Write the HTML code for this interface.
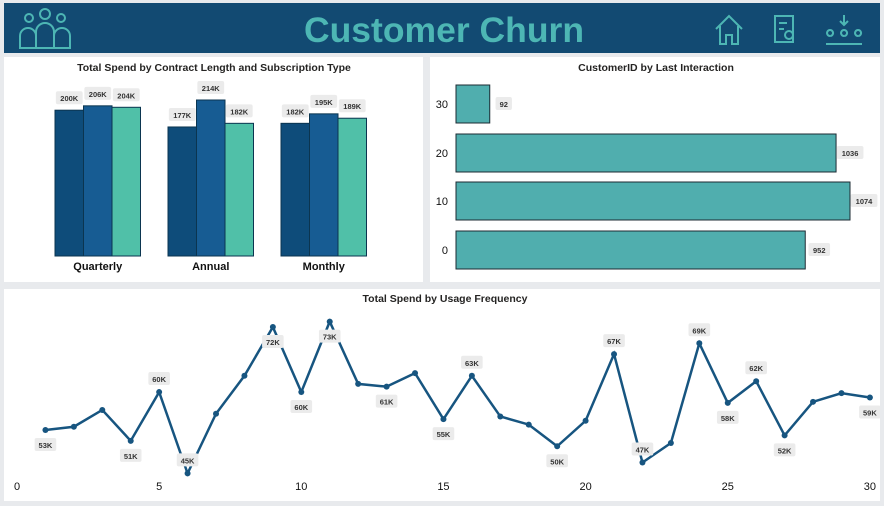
<!DOCTYPE html>
<html><head><meta charset="utf-8"><style>
body{margin:0;width:884px;height:501px;background:#e8eaed;font-family:"Liberation Sans",sans-serif;overflow:hidden;position:relative}
.panel{position:absolute;background:#fff}
svg text{font-family:"Liberation Sans",sans-serif}
</style></head><body>
<div style="position:absolute;left:4px;top:3px;width:876px;height:50px;background:#124a72">
 <svg width="876" height="50">
  <g stroke="#4db6b4" stroke-width="2" fill="none">
   <circle cx="25" cy="15" r="4"/><circle cx="41" cy="11" r="5"/><circle cx="57" cy="15" r="4"/>
   <path d="M16 45 v-12 a8 8 0 0 1 16 0 v12 z"/><path d="M32 45 v-16 a9 9 0 0 1 18 0 v16 z"/><path d="M50 45 v-12 a8 8 0 0 1 16 0 v12 z"/>
  </g>
  <text x="440" y="39" text-anchor="middle" font-size="35" font-weight="bold" fill="#4db6b4" textLength="280" lengthAdjust="spacingAndGlyphs">Customer Churn</text>
  <g stroke="#4db6b4" stroke-width="2" fill="none">
   <path d="M712 26 l13 -13 l13 13 M716 23 v18 h6 v-9 h6 v9 h6 v-18"/>
   <path d="M771 13 h18 v26 h-18 z M775 20 h8 M775 26 h5"/>
   <circle cx="785" cy="32" r="4" stroke="#4db6b4"/>
   <path d="M840 12 v10 M836 18 l4 4 l4 -4 M822 41 h36 M826 33 a3 3 0 1 1 0.1 0 M840 33 a3 3 0 1 1 0.1 0 M854 33 a3 3 0 1 1 0.1 0"/>
  </g>
 </svg>
</div>

<div class="panel" style="left:4px;top:57px;width:419px;height:225px">
<svg id="c1" width="419" height="225"></svg></div>
<div class="panel" style="left:430px;top:57px;width:450px;height:225px">
<svg id="c2" width="450" height="225"></svg></div>
<div class="panel" style="left:4px;top:289px;width:876px;height:212px">
<svg id="c3" width="876" height="212"></svg></div>

<script>
const contractCats=["Quarterly","Annual","Monthly"];
const subBasic=[200,177,182];
const subPremium=[206,214,195];
const subStandard=[204,182,189];
const interactCats=["30","20","10","0"];
const interactVals=[92,1036,1074,952];
const usageX=[1,2,3,4,5,6,7,8,9,10,11,12,13,14,15,16,17,18,19,20,21,22,23,24,25,26,27,28,29,30];
const usageVals=[53,53.6,56.7,51,60,45,56,63,72,60,73,61.5,61,63.5,55,63,55.5,54,50,54.7,67,47,50.6,69,58,62,52,58.2,59.8,59];
const usageLabeled=[1,4,5,6,9,10,11,13,15,16,19,21,22,24,25,26,27,30];
const usageLabelAbove=[false,false,true,true,false,false,false,false,false,true,false,true,true,true,false,true,false,false];
const xTicks=[0,5,10,15,20,25,30];
const NS="http://www.w3.org/2000/svg";
function mk(p,t,a,txt){const e=document.createElementNS(NS,t);for(const k in a)e.setAttribute(k,a[k]);if(txt!=null)e.textContent=txt;p.appendChild(e);return e;}
function lbl(p,x,y,s,name){const w=s.length*5.2+6;const r=mk(p,"rect",{x:x-w/2,y:y-7,width:w,height:13,rx:2,fill:"#ebebeb"});

const t=mk(p,"text",{x:x,y:y+3,"text-anchor":"middle","font-size":7.5,"font-weight":"bold",fill:"#333"},s);
}

// chart 1
const c1=document.getElementById("c1");
let t=mk(c1,"text",{x:210,y:14,"text-anchor":"middle","font-size":10.5,"font-weight":"bold",fill:"#252423"},"Total Spend by Contract Length and Subscription Type");

const base=199, k=156/214, gx=[51,164,277], bw=28.5;
const series=[subBasic,subPremium,subStandard], cols=["#0e4c7a","#175c93","#50c0a8"];
contractCats.forEach((c,i)=>{
 series.forEach((s,j)=>{const h=s[i]*k, x=gx[i]+j*bw;
  const r=mk(c1,"rect",{x:x,y:base-h,width:bw,height:h,fill:cols[j],stroke:"#0b3550","stroke-width":1});
  
  lbl(c1,x+bw/2,base-h-12,s[i]+"K",'bar-label-'+c.toLowerCase()+'-'+j);});
 const tx=mk(c1,"text",{x:gx[i]+bw*1.5,y:213,"text-anchor":"middle","font-size":11,"font-weight":"bold",fill:"#111"},c);
 
});

// chart 2
const c2=document.getElementById("c2");
t=mk(c2,"text",{x:226,y:14,"text-anchor":"middle","font-size":10.5,"font-weight":"bold",fill:"#252423"},"CustomerID by Last Interaction");

const x0=26, kx=394/1074, rowY=[47,96,144,193], bh=38;
interactCats.forEach((c,i)=>{const w=interactVals[i]*kx, y=rowY[i];
 const r=mk(c2,"rect",{x:x0,y:y-bh/2,width:w,height:bh,fill:"#50aeae",stroke:"#1c2b33","stroke-width":1});
 
 const tx=mk(c2,"text",{x:18,y:y+4,"text-anchor":"end","font-size":11,fill:"#111"},c);
 
 lbl(c2,x0+w+14,y,String(interactVals[i]),'interaction-value-'+c);
});

// chart 3
const c3=document.getElementById("c3");
t=mk(c3,"text",{x:441,y:13,"text-anchor":"middle","font-size":10.5,"font-weight":"bold",fill:"#252423"},"Total Spend by Usage Frequency");

const X=v=>13+v*28.43, Y=v=>141-(v-53)*5.42;
xTicks.forEach(v=>{const tx=mk(c3,"text",{x:X(v),y:201,"text-anchor":"middle","font-size":11,fill:"#111"},String(v));
 });
const pl=mk(c3,"polyline",{points:usageX.map((x,i)=>X(x)+","+Y(usageVals[i])).join(" "),fill:"none",stroke:"#175580","stroke-width":2.5});

usageX.forEach((x,i)=>{const c=mk(c3,"circle",{cx:X(x),cy:Y(usageVals[i]),r:3,fill:"#175580"});
 });
usageLabeled.forEach((x,j)=>{const i=usageX.indexOf(x);
 lbl(c3,X(x),Y(usageVals[i])+(usageLabelAbove[j]?-13:15),Math.round(usageVals[i])+"K",'usage-label-'+x);});
</script>
</body></html>
